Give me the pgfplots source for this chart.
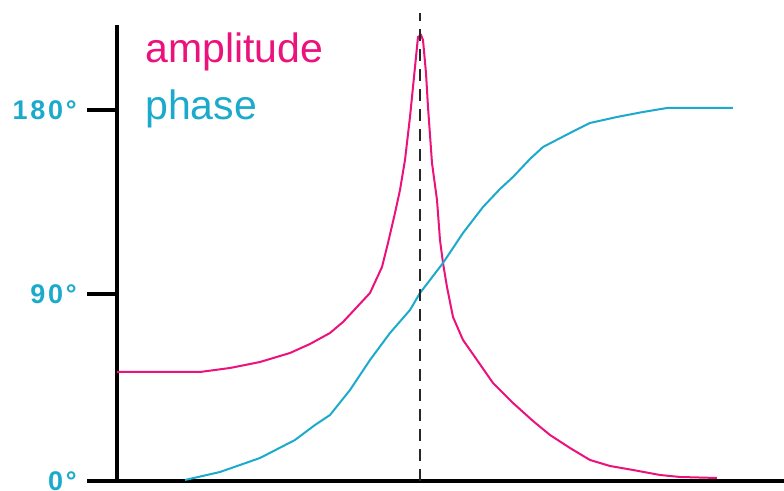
\documentclass[border=0pt]{standalone}
\usepackage{fontspec}
\setmainfont{Liberation Sans}
\usepackage{pgfplots}
\pgfplotsset{compat=1.18}
\definecolor{amp}{RGB}{236,18,124}
\definecolor{pha}{RGB}{28,170,204}
\begin{document}
\begin{tikzpicture}
\begin{axis}[
  scale only axis,
  width=333.5pt, height=228pt,
  xmin=117, xmax=784, ymin=0, ymax=456,
  axis x line*=bottom, axis y line*=left,
  axis line style={line width=2pt, black},
  xtick=\empty,
  ytick={0,187,371},
  yticklabels={0°,90°,180°},
  tick align=outside,
  major tick length=15pt,
  ytick style={line width=2pt, black},
  yticklabel style={font=\fontsize{13.5}{13.5}\selectfont\bfseries\addfontfeature{LetterSpace=10}, text=pha, inner sep=5pt},
  /pgf/number format/assume math mode=true,
  clip=false,
]
\addplot[amp, line width=1pt] coordinates {
(117,109)(200,109)(230,113)(260,119)(290,128)(310,137)(330,148)(343,159)(357,174)(370,188)(382,214)(388,238)(395,268)(400,291)(405,321)(410,364)(415,414)(418,444)(421,446)
(423,441)(426,408)(428,374)(432,318)(437,281)(440,241)(443,218)(447,194)(453,164)(463,141)(477,121)(493,98)(513,78)(533,60)(550,46)(570,33)(590,21)(610,15)(633,11)(660,6)(680,4)(717,3)};
\addplot[pha, line width=1pt] coordinates {
(185,1)(220,9)(260,23)(295,41)(315,56)(330,66)(350,91)(370,121)(390,148)(410,171)(420,188)(430,201)(443,218)(463,248)(483,274)(500,292)(513,304)(530,322)(543,334)(570,348)(590,358)(617,364)(643,369)(667,373)(733,373)};
\addplot[black!85, line width=1.2pt, dash pattern=on 6pt off 4pt] coordinates {(420,0)(420,468)};
\node[anchor=base west, inner sep=0, text=amp, font=\fontsize{20.5}{20.5}\selectfont] at (axis cs:145,418) {amplitude};
\node[anchor=base west, inner sep=0, text=pha, font=\fontsize{20.5}{20.5}\selectfont] at (axis cs:145,361) {phase};
\coordinate (O) at (axis cs:117,0);
\end{axis}
\pgfresetboundingbox
\path[use as bounding box] ([xshift=-58.5pt,yshift=-5pt]O) rectangle ([xshift=333.5pt,yshift=240.5pt]O);
\end{tikzpicture}
\end{document}
